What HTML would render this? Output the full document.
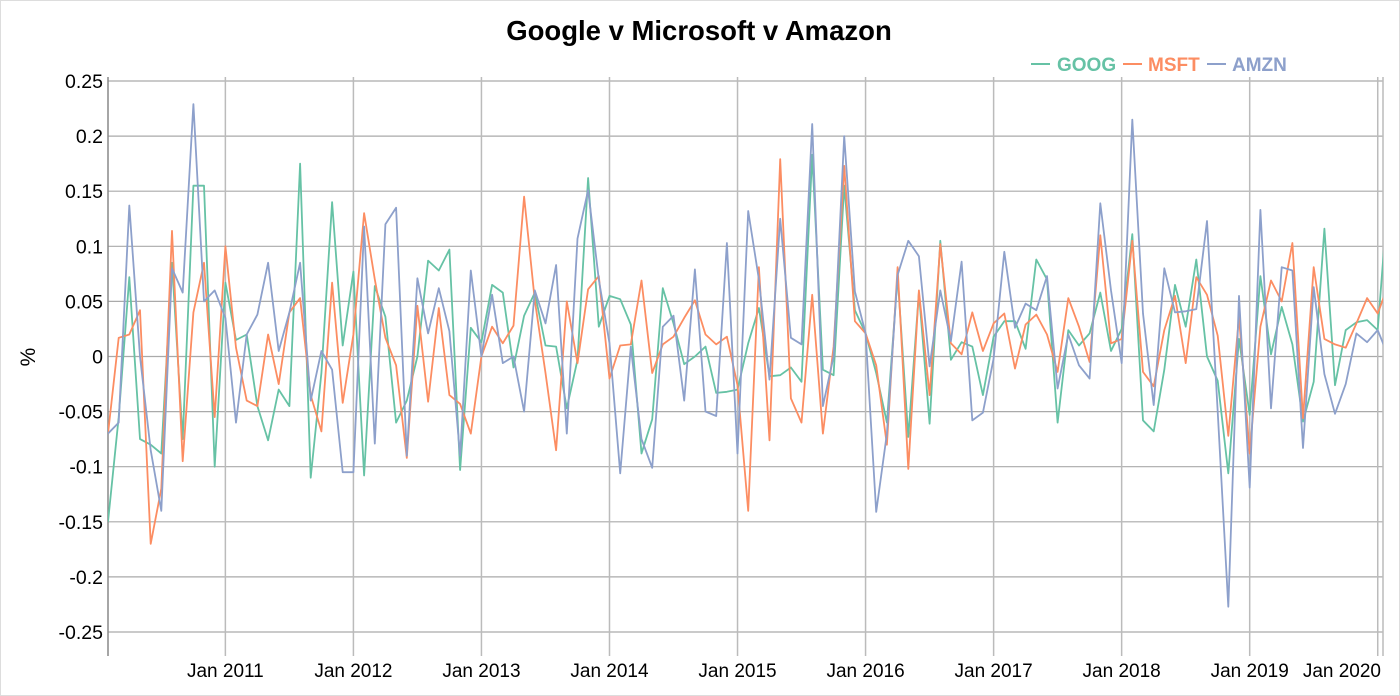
<!DOCTYPE html>
<html><head><meta charset="utf-8"><style>
body{margin:0;background:#fff;}
svg{display:block;font-family:"Liberation Sans",Arial,sans-serif;}
</style></head><body>
<svg id="chart" width="1400" height="696">
<rect x="0.5" y="0.5" width="1399" height="695" fill="#fff" stroke="#ddd"/>
<text x="699" y="40" text-anchor="middle" font-size="27.5" font-weight="bold" fill="#000">Google v Microsoft v Amazon</text>
<g id="grid"></g>
<g id="yticks"></g>
<g id="xticks"></g>
<text transform="translate(35,357) rotate(-90)" text-anchor="middle" font-size="21" fill="#000">%</text>
<defs><clipPath id="clip"><rect x="108" y="70" width="1275" height="590"/></clipPath></defs>
<g id="series" clip-path="url(#clip)"></g>
<g>
<g><line x1="1031" y1="64" x2="1050" y2="64" stroke="#66c2a5" stroke-width="2"/><text x="1057" y="71" font-size="19" font-weight="bold" fill="#66c2a5">GOOG</text></g>
<g><line x1="1123" y1="64" x2="1142" y2="64" stroke="#fc8d62" stroke-width="2"/><text x="1148" y="71" font-size="19" font-weight="bold" fill="#fc8d62">MSFT</text></g>
<g><line x1="1207" y1="64" x2="1226" y2="64" stroke="#8da0cb" stroke-width="2"/><text x="1232" y="71" font-size="19" font-weight="bold" fill="#8da0cb">AMZN</text></g>
</g>
</svg>
<script>
const goog=[-0.15,-0.055,0.072,-0.075,-0.08,-0.088,0.085,-0.075,0.155,0.155,-0.1,0.067,0.015,0.02,-0.045,-0.076,-0.03,-0.045,0.175,-0.11,-0.015,0.14,0.01,0.077,-0.108,0.064,0.036,-0.06,-0.04,0.0,0.087,0.078,0.097,-0.103,0.026,0.013,0.065,0.058,-0.01,0.037,0.058,0.01,0.009,-0.047,-0.003,0.162,0.027,0.055,0.052,0.029,-0.088,-0.057,0.062,0.03,-0.007,0.0,0.009,-0.033,-0.032,-0.03,0.012,0.044,-0.018,-0.017,-0.01,-0.023,0.183,-0.012,-0.017,0.155,0.042,0.021,-0.015,-0.06,0.073,-0.073,0.058,-0.061,0.105,-0.003,0.013,0.009,-0.035,0.018,0.032,0.032,0.007,0.088,0.07,-0.06,0.024,0.01,0.021,0.058,0.005,0.025,0.111,-0.058,-0.068,-0.012,0.065,0.027,0.088,0.0,-0.022,-0.106,0.016,-0.053,0.073,0.002,0.045,0.011,-0.059,-0.023,0.116,-0.026,0.024,0.031,0.033,0.024,0.15];
const msft=[-0.07,0.017,0.02,0.042,-0.17,-0.12,0.114,-0.095,0.04,0.085,-0.055,0.1,0.008,-0.04,-0.045,0.02,-0.025,0.04,0.053,-0.035,-0.068,0.067,-0.042,0.02,0.13,0.07,0.017,-0.008,-0.092,0.046,-0.041,0.044,-0.035,-0.043,-0.07,0.0,0.027,0.012,0.028,0.145,0.051,-0.015,-0.085,0.05,-0.006,0.061,0.073,-0.02,0.01,0.011,0.069,-0.015,0.011,0.018,0.035,0.051,0.02,0.011,0.018,-0.026,-0.14,0.081,-0.076,0.179,-0.038,-0.06,0.056,-0.07,0.009,0.173,0.032,0.021,-0.008,-0.08,0.081,-0.102,0.06,-0.035,0.102,0.012,0.002,0.04,0.005,0.03,0.039,-0.011,0.029,0.038,0.02,-0.014,0.053,0.027,-0.005,0.11,0.012,0.016,0.105,-0.014,-0.027,0.024,0.055,-0.006,0.072,0.056,0.019,-0.072,0.036,-0.088,0.027,0.069,0.05,0.103,-0.056,0.081,0.016,0.011,0.008,0.03,0.053,0.039,0.065];
const amzn=[-0.07,-0.06,0.137,0.0,-0.085,-0.14,0.08,0.058,0.229,0.05,0.06,0.035,-0.06,0.02,0.038,0.085,0.005,0.04,0.085,-0.04,0.005,-0.012,-0.105,-0.105,0.118,-0.079,0.12,0.135,-0.09,0.071,0.021,0.062,0.023,-0.09,0.078,0.0,0.056,-0.006,0.0,-0.05,0.06,0.03,0.083,-0.07,0.107,0.151,0.07,0.012,-0.106,0.009,-0.075,-0.101,0.027,0.037,-0.04,0.079,-0.05,-0.054,0.103,-0.088,0.132,0.07,-0.021,0.125,0.017,0.011,0.211,-0.045,0.0,0.2,0.059,0.021,-0.141,-0.07,0.074,0.105,0.091,-0.009,0.06,0.014,0.086,-0.058,-0.051,-0.002,0.095,0.026,0.048,0.042,0.073,-0.029,0.02,-0.008,-0.02,0.139,0.06,-0.006,0.215,0.039,-0.044,0.08,0.04,0.041,0.043,0.123,-0.05,-0.227,0.055,-0.119,0.133,-0.047,0.081,0.078,-0.083,0.063,-0.016,-0.052,-0.025,0.021,0.013,0.024,0.0];
const yTicks=[0.25,0.2,0.15,0.1,0.05,0,-0.05,-0.1,-0.15,-0.2,-0.25];
const xYears=["Jan 2011","Jan 2012","Jan 2013","Jan 2014","Jan 2015","Jan 2016","Jan 2017","Jan 2018","Jan 2019","Jan 2020"];
const xYearIndex=[11,23,35,47,59,71,83,95,107,119];

const NS="http://www.w3.org/2000/svg";
const X0=108,XSTEP=10.67,Y0=356.5,YSCALE=1102;
function xs(i){return X0+i*XSTEP;}
function ys(v){return Y0-v*YSCALE;}
function mk(tag,attrs,parent){const e=document.createElementNS(NS,tag);for(const k in attrs)e.setAttribute(k,attrs[k]);parent.appendChild(e);return e;}
const grid=document.getElementById('grid'),yt=document.getElementById('yticks'),xt=document.getElementById('xticks'),ser=document.getElementById('series');
yTicks.forEach(v=>{
  const l=mk('line',{x1:108,x2:1383,y1:ys(v),y2:ys(v),stroke:'#aaa','stroke-width':1.2},grid);
  
  
  const t=mk('text',{x:103,y:ys(v)+7,'text-anchor':'end','font-size':19.5,fill:'#000'},yt);
  t.textContent=String(v);
  
  
});
xYearIndex.forEach((idx,k)=>{
  const x=xs(idx);
  const l=mk('line',{x1:x,x2:x,y1:77,y2:656,stroke:'#bbb','stroke-width':1.5},grid);
  
  
  const last=k===xYears.length-1;
  const t=mk('text',{x:last?1381:x,y:677,'text-anchor':last?'end':'middle','font-size':19,fill:'#000'},xt);
  t.textContent=xYears[k];
  
  
});
const ax=mk('line',{x1:108,x2:108,y1:77,y2:656,stroke:'#888','stroke-width':1.5},grid);


const rb=mk('line',{x1:1383,x2:1383,y1:77,y2:656,stroke:'#bbb','stroke-width':1.5},grid);


[[goog,'#66c2a5','goog-line'],[msft,'#fc8d62','msft-line'],[amzn,'#8da0cb','amzn-line']].forEach(([d,c,n])=>{
  const p=mk('polyline',{points:d.map((v,i)=>xs(i).toFixed(1)+','+ys(v).toFixed(1)).join(' '),fill:'none',stroke:c,'stroke-width':1.8,'stroke-linejoin':'round'},ser);
  
  
});
</script>
</body></html>
